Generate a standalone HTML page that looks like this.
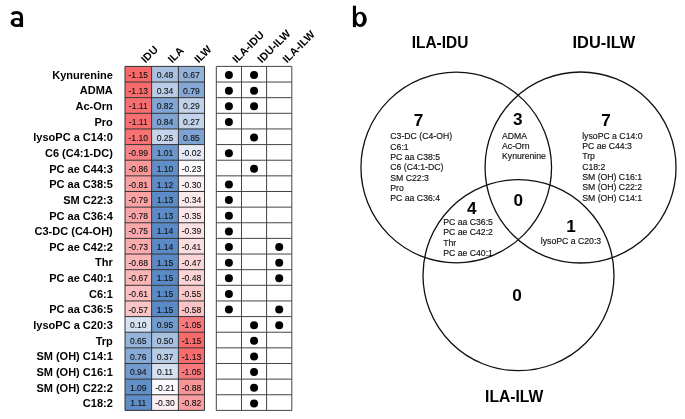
<!DOCTYPE html><html><head><meta charset="utf-8"><style>html,body{margin:0;padding:0;background:#fff;width:685px;height:419px;overflow:hidden}svg{display:block;filter:blur(0.35px)}text{font-family:"Liberation Sans",sans-serif}</style></head><body>
<svg width="685" height="419" viewBox="0 0 685 419">
<rect width="685" height="419" fill="#fff"/>
<g fill="none" stroke="#000" stroke-width="3.1">
<path d="M11.9 14.4C13.1 12.9 14.8 12.5 16.6 12.5C19.8 12.5 21.5 13.9 21.5 17V27.1"/>
</g>
<path fill-rule="evenodd" fill="#000" d="M10.55 22.45a6.30 4.50 0 1 0 12.60 0a6.30 4.50 0 1 0 -12.60 0ZM14.20 22.20a2.75 2.15 0 1 0 5.50 0a2.75 2.15 0 1 0 -5.50 0Z"/>
<path fill-rule="evenodd" fill="#000" d="M354.20 19.40a6.30 7.70 0 1 0 12.60 0a6.30 7.70 0 1 0 -12.60 0ZM356.40 19.00a3.30 5.20 0 1 0 6.60 0a3.30 5.20 0 1 0 -6.60 0Z"/>
<rect x="352.9" y="5.7" width="3.1" height="21.4" fill="#000"/>
<rect x="125.00" y="66.40" width="26.60" height="15.64" fill="#f8696b"/>
<rect x="151.60" y="66.40" width="26.80" height="15.64" fill="#a9c2e2"/>
<rect x="178.40" y="66.40" width="26.10" height="15.64" fill="#93b2da"/>
<rect x="125.00" y="82.04" width="26.60" height="15.64" fill="#f86c6e"/>
<rect x="151.60" y="82.04" width="26.80" height="15.64" fill="#bacde8"/>
<rect x="178.40" y="82.04" width="26.10" height="15.64" fill="#85a8d5"/>
<rect x="125.00" y="97.67" width="26.60" height="15.64" fill="#f86f71"/>
<rect x="151.60" y="97.67" width="26.80" height="15.64" fill="#81a5d4"/>
<rect x="178.40" y="97.67" width="26.10" height="15.64" fill="#c0d2ea"/>
<rect x="125.00" y="113.31" width="26.60" height="15.64" fill="#f86f71"/>
<rect x="151.60" y="113.31" width="26.80" height="15.64" fill="#7fa4d3"/>
<rect x="178.40" y="113.31" width="26.10" height="15.64" fill="#c2d3eb"/>
<rect x="125.00" y="128.95" width="26.60" height="15.64" fill="#f87173"/>
<rect x="151.60" y="128.95" width="26.80" height="15.64" fill="#c4d5eb"/>
<rect x="178.40" y="128.95" width="26.10" height="15.64" fill="#7da3d2"/>
<rect x="125.00" y="144.58" width="26.60" height="15.64" fill="#f98284"/>
<rect x="151.60" y="144.58" width="26.80" height="15.64" fill="#6b96cc"/>
<rect x="178.40" y="144.58" width="26.10" height="15.64" fill="#e4ebf7"/>
<rect x="125.00" y="160.22" width="26.60" height="15.64" fill="#f99799"/>
<rect x="151.60" y="160.22" width="26.80" height="15.64" fill="#608ec8"/>
<rect x="178.40" y="160.22" width="26.10" height="15.64" fill="#fcfafd"/>
<rect x="125.00" y="175.85" width="26.60" height="15.64" fill="#f99fa1"/>
<rect x="151.60" y="175.85" width="26.80" height="15.64" fill="#5e8cc7"/>
<rect x="178.40" y="175.85" width="26.10" height="15.64" fill="#fceff2"/>
<rect x="125.00" y="191.49" width="26.60" height="15.64" fill="#faa2a4"/>
<rect x="151.60" y="191.49" width="26.80" height="15.64" fill="#5c8cc7"/>
<rect x="178.40" y="191.49" width="26.10" height="15.64" fill="#fbe9ec"/>
<rect x="125.00" y="207.13" width="26.60" height="15.64" fill="#faa3a6"/>
<rect x="151.60" y="207.13" width="26.80" height="15.64" fill="#5c8cc7"/>
<rect x="178.40" y="207.13" width="26.10" height="15.64" fill="#fbe7ea"/>
<rect x="125.00" y="222.76" width="26.60" height="15.64" fill="#faa8ab"/>
<rect x="151.60" y="222.76" width="26.80" height="15.64" fill="#5b8bc6"/>
<rect x="178.40" y="222.76" width="26.10" height="15.64" fill="#fbe1e4"/>
<rect x="125.00" y="238.40" width="26.60" height="15.64" fill="#faabae"/>
<rect x="151.60" y="238.40" width="26.80" height="15.64" fill="#5b8bc6"/>
<rect x="178.40" y="238.40" width="26.10" height="15.64" fill="#fbdee1"/>
<rect x="125.00" y="254.04" width="26.60" height="15.64" fill="#fab3b6"/>
<rect x="151.60" y="254.04" width="26.80" height="15.64" fill="#5a8ac6"/>
<rect x="178.40" y="254.04" width="26.10" height="15.64" fill="#fbd4d7"/>
<rect x="125.00" y="269.67" width="26.60" height="15.64" fill="#fab5b7"/>
<rect x="151.60" y="269.67" width="26.80" height="15.64" fill="#5a8ac6"/>
<rect x="178.40" y="269.67" width="26.10" height="15.64" fill="#fbd3d6"/>
<rect x="125.00" y="285.31" width="26.60" height="15.64" fill="#fabec1"/>
<rect x="151.60" y="285.31" width="26.80" height="15.64" fill="#5a8ac6"/>
<rect x="178.40" y="285.31" width="26.10" height="15.64" fill="#fbc8ca"/>
<rect x="125.00" y="300.95" width="26.60" height="15.64" fill="#fac5c7"/>
<rect x="151.60" y="300.95" width="26.80" height="15.64" fill="#5a8ac6"/>
<rect x="178.40" y="300.95" width="26.10" height="15.64" fill="#fac3c6"/>
<rect x="125.00" y="316.58" width="26.60" height="15.64" fill="#d6e1f2"/>
<rect x="151.60" y="316.58" width="26.80" height="15.64" fill="#729bce"/>
<rect x="178.40" y="316.58" width="26.10" height="15.64" fill="#f8797b"/>
<rect x="125.00" y="332.22" width="26.60" height="15.64" fill="#95b4db"/>
<rect x="151.60" y="332.22" width="26.80" height="15.64" fill="#a7c0e1"/>
<rect x="178.40" y="332.22" width="26.10" height="15.64" fill="#f8696b"/>
<rect x="125.00" y="347.85" width="26.60" height="15.64" fill="#88aad6"/>
<rect x="151.60" y="347.85" width="26.80" height="15.64" fill="#b6cbe6"/>
<rect x="178.40" y="347.85" width="26.10" height="15.64" fill="#f86c6e"/>
<rect x="125.00" y="363.49" width="26.60" height="15.64" fill="#739bcf"/>
<rect x="151.60" y="363.49" width="26.80" height="15.64" fill="#d5e1f1"/>
<rect x="178.40" y="363.49" width="26.10" height="15.64" fill="#f8797b"/>
<rect x="125.00" y="379.13" width="26.60" height="15.64" fill="#618fc8"/>
<rect x="151.60" y="379.13" width="26.80" height="15.64" fill="#fbfbff"/>
<rect x="178.40" y="379.13" width="26.10" height="15.64" fill="#f99496"/>
<rect x="125.00" y="394.76" width="26.60" height="15.64" fill="#5f8dc8"/>
<rect x="151.60" y="394.76" width="26.80" height="15.64" fill="#fceff2"/>
<rect x="178.40" y="394.76" width="26.10" height="15.64" fill="#f99da0"/>
<path d="M125.00 66.40H204.50M125.00 82.04H204.50M125.00 97.67H204.50M125.00 113.31H204.50M125.00 128.95H204.50M125.00 144.58H204.50M125.00 160.22H204.50M125.00 175.85H204.50M125.00 191.49H204.50M125.00 207.13H204.50M125.00 222.76H204.50M125.00 238.40H204.50M125.00 254.04H204.50M125.00 269.67H204.50M125.00 285.31H204.50M125.00 300.95H204.50M125.00 316.58H204.50M125.00 332.22H204.50M125.00 347.85H204.50M125.00 363.49H204.50M125.00 379.13H204.50M125.00 394.76H204.50M125.00 410.40H204.50M125.00 66.40V410.40M151.60 66.40V410.40M178.40 66.40V410.40M204.50 66.40V410.40" stroke="#333" stroke-width="1" fill="none"/>
<path d="M216.30 66.40H291.80M216.30 82.04H291.80M216.30 97.67H291.80M216.30 113.31H291.80M216.30 128.95H291.80M216.30 144.58H291.80M216.30 160.22H291.80M216.30 175.85H291.80M216.30 191.49H291.80M216.30 207.13H291.80M216.30 222.76H291.80M216.30 238.40H291.80M216.30 254.04H291.80M216.30 269.67H291.80M216.30 285.31H291.80M216.30 300.95H291.80M216.30 316.58H291.80M216.30 332.22H291.80M216.30 347.85H291.80M216.30 363.49H291.80M216.30 379.13H291.80M216.30 394.76H291.80M216.30 410.40H291.80M216.30 66.40V410.40M241.50 66.40V410.40M266.60 66.40V410.40M291.80 66.40V410.40" stroke="#444" stroke-width="1" fill="none"/>
<g font-size="9.30" fill="#111" stroke="#111" stroke-width="0.1" text-anchor="middle">
<text transform="translate(138.30 78.12) scale(0.925 1)">-1.15</text>
<text transform="translate(165.00 78.12) scale(0.925 1)">0.48</text>
<text transform="translate(191.45 78.12) scale(0.925 1)">0.67</text>
<text transform="translate(138.30 93.75) scale(0.925 1)">-1.13</text>
<text transform="translate(165.00 93.75) scale(0.925 1)">0.34</text>
<text transform="translate(191.45 93.75) scale(0.925 1)">0.79</text>
<text transform="translate(138.30 109.39) scale(0.925 1)">-1.11</text>
<text transform="translate(165.00 109.39) scale(0.925 1)">0.82</text>
<text transform="translate(191.45 109.39) scale(0.925 1)">0.29</text>
<text transform="translate(138.30 125.03) scale(0.925 1)">-1.11</text>
<text transform="translate(165.00 125.03) scale(0.925 1)">0.84</text>
<text transform="translate(191.45 125.03) scale(0.925 1)">0.27</text>
<text transform="translate(138.30 140.66) scale(0.925 1)">-1.10</text>
<text transform="translate(165.00 140.66) scale(0.925 1)">0.25</text>
<text transform="translate(191.45 140.66) scale(0.925 1)">0.85</text>
<text transform="translate(138.30 156.30) scale(0.925 1)">-0.99</text>
<text transform="translate(165.00 156.30) scale(0.925 1)">1.01</text>
<text transform="translate(191.45 156.30) scale(0.925 1)">-0.02</text>
<text transform="translate(138.30 171.94) scale(0.925 1)">-0.86</text>
<text transform="translate(165.00 171.94) scale(0.925 1)">1.10</text>
<text transform="translate(191.45 171.94) scale(0.925 1)">-0.23</text>
<text transform="translate(138.30 187.57) scale(0.925 1)">-0.81</text>
<text transform="translate(165.00 187.57) scale(0.925 1)">1.12</text>
<text transform="translate(191.45 187.57) scale(0.925 1)">-0.30</text>
<text transform="translate(138.30 203.21) scale(0.925 1)">-0.79</text>
<text transform="translate(165.00 203.21) scale(0.925 1)">1.13</text>
<text transform="translate(191.45 203.21) scale(0.925 1)">-0.34</text>
<text transform="translate(138.30 218.85) scale(0.925 1)">-0.78</text>
<text transform="translate(165.00 218.85) scale(0.925 1)">1.13</text>
<text transform="translate(191.45 218.85) scale(0.925 1)">-0.35</text>
<text transform="translate(138.30 234.48) scale(0.925 1)">-0.75</text>
<text transform="translate(165.00 234.48) scale(0.925 1)">1.14</text>
<text transform="translate(191.45 234.48) scale(0.925 1)">-0.39</text>
<text transform="translate(138.30 250.12) scale(0.925 1)">-0.73</text>
<text transform="translate(165.00 250.12) scale(0.925 1)">1.14</text>
<text transform="translate(191.45 250.12) scale(0.925 1)">-0.41</text>
<text transform="translate(138.30 265.75) scale(0.925 1)">-0.68</text>
<text transform="translate(165.00 265.75) scale(0.925 1)">1.15</text>
<text transform="translate(191.45 265.75) scale(0.925 1)">-0.47</text>
<text transform="translate(138.30 281.39) scale(0.925 1)">-0.67</text>
<text transform="translate(165.00 281.39) scale(0.925 1)">1.15</text>
<text transform="translate(191.45 281.39) scale(0.925 1)">-0.48</text>
<text transform="translate(138.30 297.03) scale(0.925 1)">-0.61</text>
<text transform="translate(165.00 297.03) scale(0.925 1)">1.15</text>
<text transform="translate(191.45 297.03) scale(0.925 1)">-0.55</text>
<text transform="translate(138.30 312.66) scale(0.925 1)">-0.57</text>
<text transform="translate(165.00 312.66) scale(0.925 1)">1.15</text>
<text transform="translate(191.45 312.66) scale(0.925 1)">-0.58</text>
<text transform="translate(138.30 328.30) scale(0.925 1)">0.10</text>
<text transform="translate(165.00 328.30) scale(0.925 1)">0.95</text>
<text transform="translate(191.45 328.30) scale(0.925 1)">-1.05</text>
<text transform="translate(138.30 343.94) scale(0.925 1)">0.65</text>
<text transform="translate(165.00 343.94) scale(0.925 1)">0.50</text>
<text transform="translate(191.45 343.94) scale(0.925 1)">-1.15</text>
<text transform="translate(138.30 359.57) scale(0.925 1)">0.76</text>
<text transform="translate(165.00 359.57) scale(0.925 1)">0.37</text>
<text transform="translate(191.45 359.57) scale(0.925 1)">-1.13</text>
<text transform="translate(138.30 375.21) scale(0.925 1)">0.94</text>
<text transform="translate(165.00 375.21) scale(0.925 1)">0.11</text>
<text transform="translate(191.45 375.21) scale(0.925 1)">-1.05</text>
<text transform="translate(138.30 390.85) scale(0.925 1)">1.09</text>
<text transform="translate(165.00 390.85) scale(0.925 1)">-0.21</text>
<text transform="translate(191.45 390.85) scale(0.925 1)">-0.88</text>
<text transform="translate(138.30 406.48) scale(0.925 1)">1.11</text>
<text transform="translate(165.00 406.48) scale(0.925 1)">-0.30</text>
<text transform="translate(191.45 406.48) scale(0.925 1)">-0.82</text>
</g>
<g fill="#000">
<circle cx="228.90" cy="75.02" r="4.00"/>
<circle cx="254.05" cy="75.02" r="4.00"/>
<circle cx="228.90" cy="90.65" r="4.00"/>
<circle cx="254.05" cy="90.65" r="4.00"/>
<circle cx="228.90" cy="106.29" r="4.00"/>
<circle cx="254.05" cy="106.29" r="4.00"/>
<circle cx="228.90" cy="121.93" r="4.00"/>
<circle cx="254.05" cy="137.56" r="4.00"/>
<circle cx="228.90" cy="153.20" r="4.00"/>
<circle cx="254.05" cy="168.84" r="4.00"/>
<circle cx="228.90" cy="184.47" r="4.00"/>
<circle cx="228.90" cy="200.11" r="4.00"/>
<circle cx="228.90" cy="215.75" r="4.00"/>
<circle cx="228.90" cy="231.38" r="4.00"/>
<circle cx="228.90" cy="247.02" r="4.00"/>
<circle cx="279.20" cy="247.02" r="4.00"/>
<circle cx="228.90" cy="262.65" r="4.00"/>
<circle cx="279.20" cy="262.65" r="4.00"/>
<circle cx="228.90" cy="278.29" r="4.00"/>
<circle cx="279.20" cy="278.29" r="4.00"/>
<circle cx="228.90" cy="293.93" r="4.00"/>
<circle cx="228.90" cy="309.56" r="4.00"/>
<circle cx="279.20" cy="309.56" r="4.00"/>
<circle cx="254.05" cy="325.20" r="4.00"/>
<circle cx="279.20" cy="325.20" r="4.00"/>
<circle cx="254.05" cy="340.84" r="4.00"/>
<circle cx="254.05" cy="356.47" r="4.00"/>
<circle cx="254.05" cy="372.11" r="4.00"/>
<circle cx="254.05" cy="387.75" r="4.00"/>
<circle cx="254.05" cy="403.38" r="4.00"/>
</g>
<g font-size="11.00" font-weight="bold" fill="#000" text-anchor="end">
<text x="112.80" y="78.82">Kynurenine</text>
<text x="112.80" y="94.45">ADMA</text>
<text x="112.80" y="110.09">Ac-Orn</text>
<text x="112.80" y="125.73">Pro</text>
<text x="112.80" y="141.36">lysoPC a C14:0</text>
<text x="112.80" y="157.00">C6 (C4:1-DC)</text>
<text x="112.80" y="172.64">PC ae C44:3</text>
<text x="112.80" y="188.27">PC aa C38:5</text>
<text x="112.80" y="203.91">SM C22:3</text>
<text x="112.80" y="219.55">PC aa C36:4</text>
<text x="112.80" y="235.18">C3-DC (C4-OH)</text>
<text x="112.80" y="250.82">PC ae C42:2</text>
<text x="112.80" y="266.45">Thr</text>
<text x="112.80" y="282.09">PC ae C40:1</text>
<text x="112.80" y="297.73">C6:1</text>
<text x="112.80" y="313.36">PC aa C36:5</text>
<text x="112.80" y="329.00">lysoPC a C20:3</text>
<text x="112.80" y="344.64">Trp</text>
<text x="112.80" y="360.27">SM (OH) C14:1</text>
<text x="112.80" y="375.91">SM (OH) C16:1</text>
<text x="112.80" y="391.55">SM (OH) C22:2</text>
<text x="112.80" y="407.18">C18:2</text>
</g>
<g font-size="10.80" font-weight="bold" fill="#000">
<text transform="translate(145.50 63.50) rotate(-45)">IDU</text>
<text transform="translate(172.20 63.50) rotate(-45)">ILA</text>
<text transform="translate(198.65 63.50) rotate(-45)">ILW</text>
<text transform="translate(236.70 63.50) rotate(-45)">ILA-IDU</text>
<text transform="translate(261.85 63.50) rotate(-45)">IDU-ILW</text>
<text transform="translate(287.00 63.50) rotate(-45)">ILA-ILW</text>
</g>
<g fill="none" stroke="#111" stroke-width="1.3">
<circle cx="456.25" cy="167.5" r="95.3"/>
<circle cx="580.55" cy="167.5" r="95.5"/>
<circle cx="518.5" cy="275.2" r="95.5"/>
</g>
<g font-size="16.40" font-weight="bold" fill="#000" text-anchor="middle">
<text x="440" y="47.6" textLength="56.6" lengthAdjust="spacingAndGlyphs">ILA-IDU</text>
<text x="603.9" y="47.7" textLength="62.8" lengthAdjust="spacingAndGlyphs">IDU-ILW</text>
<text x="514.2" y="402.4" textLength="58.2" lengthAdjust="spacingAndGlyphs">ILA-ILW</text>
</g>
<g font-size="17.20" font-weight="bold" fill="#000" text-anchor="middle">
<text x="418.6" y="125.8">7</text>
<text x="517.7" y="125.4">3</text>
<text x="606.1" y="125.7">7</text>
<text x="471.9" y="214.0">4</text>
<text x="518.3" y="206.2">0</text>
<text x="571.0" y="231.7">1</text>
<text x="517.1" y="301.4">0</text>
</g>
<g font-size="8.70" fill="#111" stroke="#111" stroke-width="0.15">
<text x="390.3" y="139.2">C3-DC (C4-OH)</text>
<text x="390.3" y="149.5">C6:1</text>
<text x="390.3" y="159.9">PC aa C38:5</text>
<text x="390.3" y="170.2">C6 (C4:1-DC)</text>
<text x="390.3" y="180.6">SM C22:3</text>
<text x="390.3" y="190.9">Pro</text>
<text x="390.3" y="201.3">PC aa C36:4</text>
<text x="502.0" y="138.7">ADMA</text>
<text x="502.0" y="149.0">Ac-Orn</text>
<text x="502.0" y="159.4">Kynurenine</text>
<text x="582.2" y="138.6">lysoPC a C14:0</text>
<text x="582.2" y="148.9">PC ae C44:3</text>
<text x="582.2" y="159.3">Trp</text>
<text x="582.2" y="169.6">C18:2</text>
<text x="582.2" y="180.0">SM (OH) C16:1</text>
<text x="582.2" y="190.3">SM (OH) C22:2</text>
<text x="582.2" y="200.7">SM (OH) C14:1</text>
<text x="443.2" y="225.1">PC aa C36:5</text>
<text x="443.2" y="235.4">PC ae C42:2</text>
<text x="443.2" y="245.8">Thr</text>
<text x="443.2" y="256.1">PC ae C40:1</text>
<text x="540.8" y="244.2">lysoPC a C20:3</text>
</g>
</svg></body></html>
